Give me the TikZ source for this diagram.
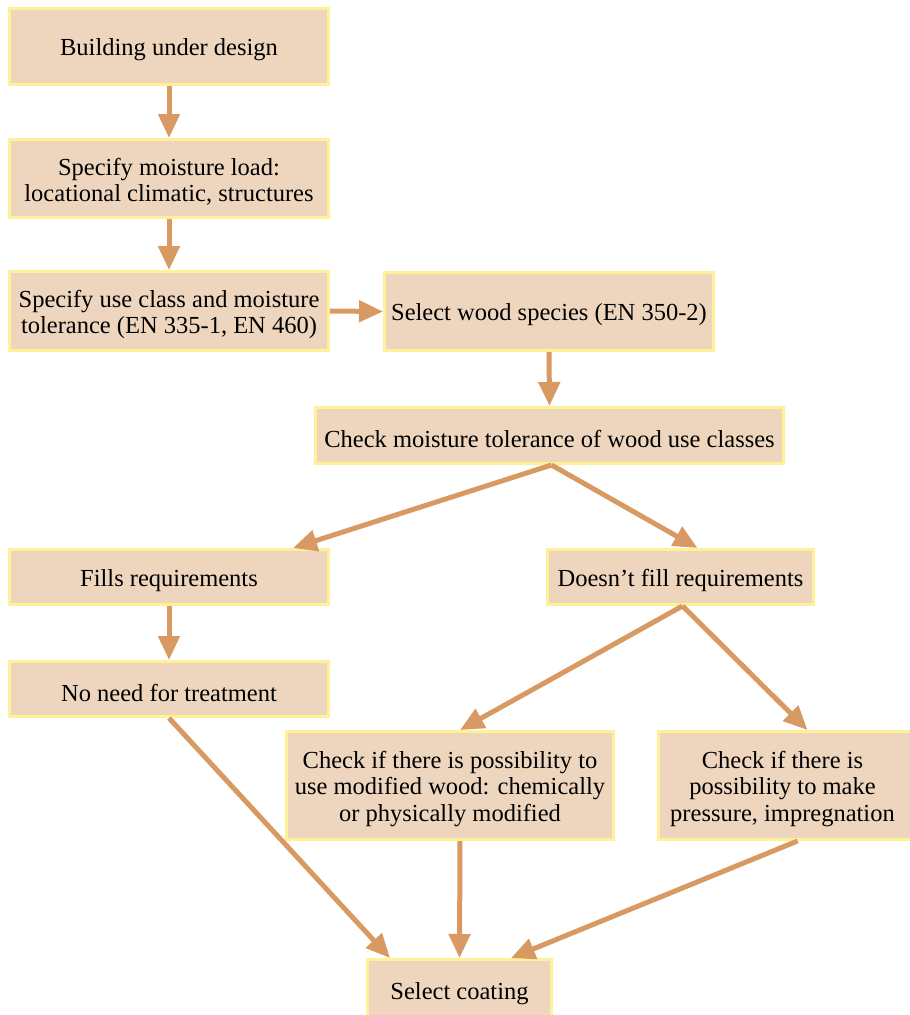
\documentclass[tikz,border=0pt]{standalone}
\usepackage{fontspec}
\setmainfont{Liberation Serif}
\usetikzlibrary{arrows.meta}
\definecolor{boxfill}{HTML}{EED6BE}
\definecolor{boxline}{HTML}{FFF197}
\definecolor{arrowc}{HTML}{D89A62}
\begin{document}
\begin{tikzpicture}[x=1pt,y=-1pt,
  box/.style={draw=boxline, fill=boxfill, line width=3pt, inner sep=0pt},
  txt/.style={align=center, font=\fontsize{24.5}{26.5}\selectfont, inner sep=0pt, yshift=-3.5pt},
  arr/.style={draw=arrowc, line width=5pt, -{Triangle[length=24pt,width=21pt]}}]
\useasboundingbox (0,0) rectangle (910,1015);
\clip (0,0) rectangle (910,1015);
\node[box, minimum width=319pt, minimum height=76pt, label={[txt]center:Building under design}] (b1) at (169,46.5) {};
\node[box, minimum width=319pt, minimum height=78pt, label={[txt]center:{Specify moisture load:\\locational climatic, structures}}] (b2) at (169,178.5) {};
\node[box, minimum width=319pt, minimum height=79pt, label={[txt]center:{Specify use class and moisture\\tolerance (EN 335-1, EN 460)}}] (b3) at (169,311) {};
\node[box, minimum width=329pt, minimum height=78pt, label={[txt]center:{Select wood species (EN 350-2)}}] (b4) at (549,311.5) {};
\node[box, minimum width=468pt, minimum height=56pt, label={[txt]center:{Check moisture tolerance of wood use classes}}] (b5) at (549.5,435.5) {};
\node[box, minimum width=319pt, minimum height=55pt, label={[txt]center:{Fills requirements}}] (b6) at (169,577) {};
\node[box, minimum width=266pt, minimum height=55pt, label={[txt]center:{Doesn’t fill requirements}}] (b7) at (680.5,577) {};
\node[box, minimum width=319pt, minimum height=55pt, label={[txt]center:{No need for treatment}}] (b8) at (169,689) {};
\node[box, minimum width=327pt, minimum height=108pt, label={[txt]center:{Check if there is possibility to\\use modified wood: chemically\\or physically modified}}] (b9) at (450,785.5) {};
\node[box, minimum width=264pt, minimum height=108pt, label={[txt, xshift=-8pt]center:{Check if there is\\possibility to make\\pressure, impregnation}}] (b10) at (790.5,785.5) {};
\node[box, minimum width=184pt, minimum height=61pt, label={[txt]center:{Select coating}}] (b11) at (459.5,990) {};
\draw[arr] (b1.south) -- (b2.north);
\draw[arr] (b2.south) -- (b3.north);
\draw[arr] (b3.east) -- (b4.west);
\draw[arr] (b4.south) -- (b5.north);
\draw[arr] ([xshift=2pt]b5.south) -- ([xshift=-37pt]b6.north east);
\draw[arr] ([xshift=2pt]b5.south) -- ([xshift=17pt]b7.north);
\draw[arr] (b6.south) -- (b8.north);
\draw[arr] ([xshift=2pt]b7.south) -- ([xshift=10pt]b9.north);
\draw[arr] ([xshift=2pt]b7.south) -- ([xshift=17pt]b10.north);
\draw[arr] (b8.south) -- ([xshift=24pt]b11.north west);
\draw[arr] ([xshift=10pt]b9.south) -- (b11.north);
\draw[arr] ([xshift=7pt]b10.south) -- ([xshift=-42pt]b11.north east);
\end{tikzpicture}
\end{document}
